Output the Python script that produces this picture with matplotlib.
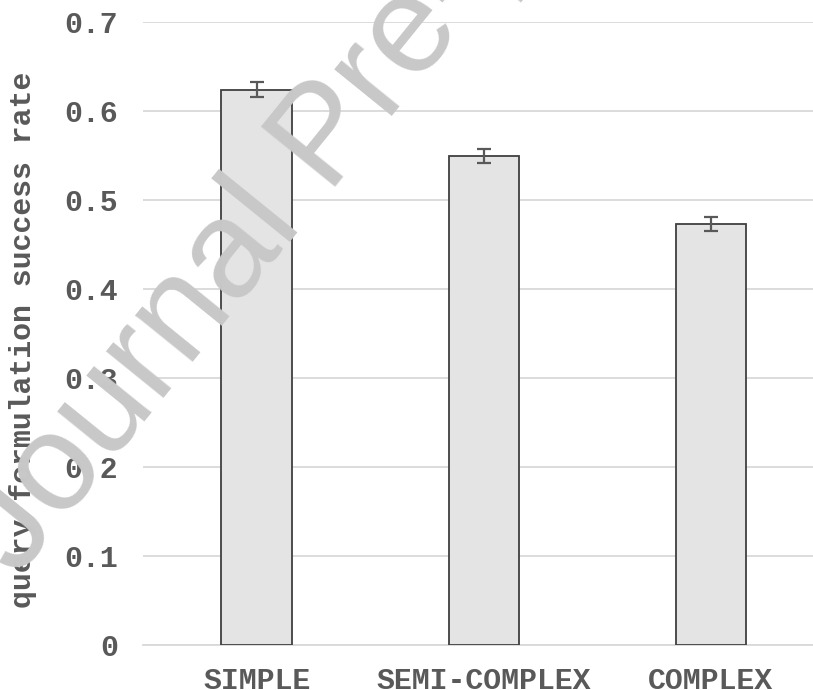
import numpy as np
import matplotlib
matplotlib.use('Agg')
import matplotlib.pyplot as plt

# Datos
categorias = ['SIMPLE', 'SEMI-COMPLEX', 'COMPLEX']
tasa_exito = [0.624, 0.549, 0.473]
error = [0.0084, 0.008, 0.0084]
yticks = [0, 0.1, 0.2, 0.3, 0.4, 0.5, 0.6, 0.7]
ytick_labels = ['0', '0.1', '0.2', '0.3', '0.4', '0.5', '0.6', '0.7']

texto = '#595959'
mono = 'Liberation Mono'

fig = plt.figure(figsize=(8.13, 6.9), dpi=100)
ax = fig.add_axes([0.176, 0.0652, 0.824, 0.903])

x = np.arange(len(categorias))
ax.bar(x, tasa_exito, width=0.31, color='#e4e4e4', edgecolor='#3f3f3f',
       linewidth=1.3, zorder=3)
ax.errorbar(x, tasa_exito, yerr=error, fmt='none', ecolor=texto,
            elinewidth=1.6, capsize=5, capthick=1.6, zorder=4)

ax.set_xlim(-0.5, 2.45)
ax.set_ylim(0, 0.7)
ax.set_yticks(yticks)
ax.set_yticklabels(ytick_labels)
ax.set_xticks(x)
ax.set_xticklabels(categorias)

# Cuadrícula horizontal
ax.grid(axis='y', color='#d9d9d9', linewidth=1.3, zorder=0)
ax.set_axisbelow(True)
for s in ['top', 'right', 'left']:
    ax.spines[s].set_visible(False)
ax.spines['bottom'].set_color('#d9d9d9')
ax.spines['bottom'].set_linewidth(1.3)
ax.tick_params(axis='both', length=0)
ax.tick_params(axis='y', pad=18)
ax.tick_params(axis='x', pad=16)

for lab in ax.get_yticklabels() + ax.get_xticklabels():
    lab.set_fontfamily(mono)
    lab.set_fontsize(21.5)
    lab.set_fontweight('bold')
    lab.set_color(texto)

ax.set_ylabel('query formulation success rate', fontfamily=mono,
              fontsize=21.5, fontweight='bold', color=texto)
ax.yaxis.set_label_coords(-0.159, 0.49)

# Marca de agua
fig.text(0.021, 0.161, 'Journal Pre-proof', fontsize=100,
         family='Liberation Sans', color='#c8c8c8', rotation=51,
         rotation_mode='anchor', ha='left', va='baseline', zorder=10)

plt.savefig('out.png', dpi=100)
